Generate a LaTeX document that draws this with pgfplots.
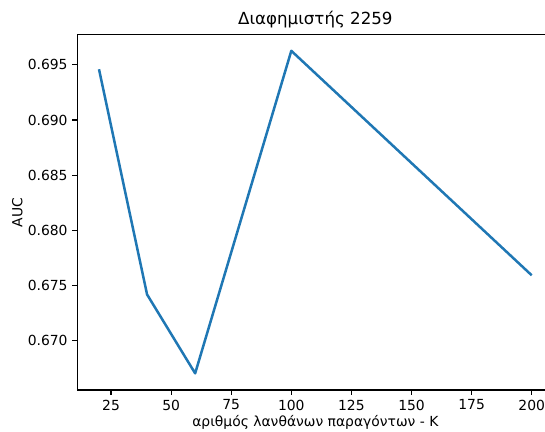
\documentclass[border=0pt]{standalone}
\usepackage{fontspec}
\setmainfont{DejaVu Sans}
\usepackage{pgfplots}
\pgfplotsset{compat=1.18}
\definecolor{mplblue}{HTML}{1F77B4}
\begin{document}
\fontsize{10pt}{12pt}\selectfont
\begin{tikzpicture}
\begin{axis}[
  at={(0,0)}, anchor=south west,
  scale only axis,
  width=342.7pt, height=255.8pt,
  xmin=11, xmax=209,
  ymin=0.66552, ymax=0.69773,
  xtick={25,50,75,100,125,150,175,200},
  ytick={0.670,0.675,0.680,0.685,0.690,0.695},
  yticklabel style={/pgf/number format/fixed,/pgf/number format/fixed zerofill,/pgf/number format/precision=3},
  /pgf/number format/assume math mode=true,
  scaled y ticks=false,
  xtick pos=bottom, ytick pos=left,
  tick align=outside,
  major tick length=3.5pt,
  tick style={black, line width=0.8pt},
  axis line style={line width=0.8pt},
  every tick label/.append style={font=\fontsize{10pt}{12pt}\selectfont},
  title={Διαφημιστής 2259},
  title style={font=\fontsize{12pt}{14pt}\selectfont, yshift=-5pt},
  xlabel={αριθμός λανθάνων παραγόντων - K},
  ylabel={AUC},
  label style={font=\fontsize{10pt}{12pt}\selectfont},
  xlabel style={yshift=3pt},
  ylabel style={yshift=-3pt},
]
\addplot[mplblue, line width=1.8pt, line join=round] coordinates {
  (20,0.6946) (40,0.67418) (60,0.66703) (100,0.69627) (200,0.67592)
};
\end{axis}
\pgfresetboundingbox
\useasboundingbox (-55.7pt,-30.2pt) rectangle (336.7pt,280.8pt);
\end{tikzpicture}
\end{document}
